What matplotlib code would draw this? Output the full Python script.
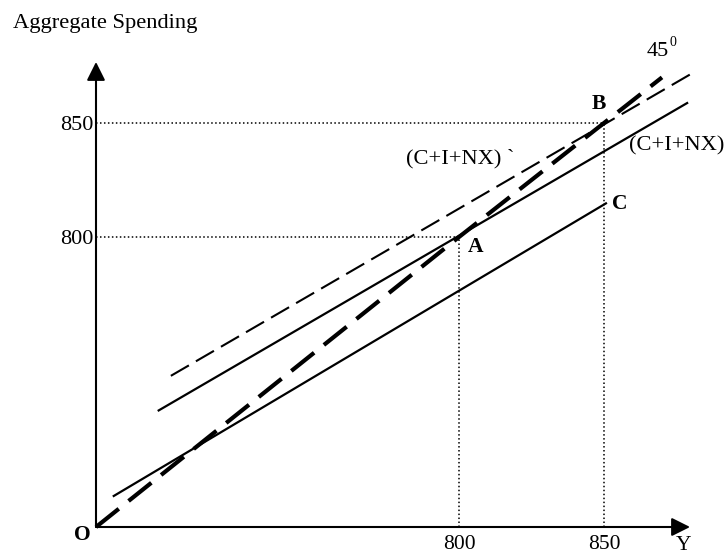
import numpy as np
import matplotlib
matplotlib.use("Agg")
import matplotlib.pyplot as plt

plt.rcParams['font.family'] = ['Liberation Serif', 'DejaVu Serif']

# ---------------- data (economic units: income Y and aggregate spending) -------------
tick_values = [800, 850]
tick_labels = ['800', '850']

line45_x = [0, 800, 850, 870]          # 45-degree line (AS = Y)
line45_y = [0, 800, 850, 870]

cinx_x = [136, 879]                     # (C+I+NX) original spending line
cinx_y = [320, 859]

cinx_new_x = [165, 882]                 # (C+I+NX)` shifted spending line
cinx_new_y = [417, 873]

c_x = [37, 851]                         # consumption line C
c_y = [84, 815]

eq_A = (800, 800)
eq_B = (850, 850)

# ---------------- schematic (not-to-scale) axis mapping -------------------------------
X_BREAKS, X_PIX = [0, 800, 850], [0, 363, 508]
Y_BREAKS, Y_PIX = [0, 800, 850], [0, 290, 404]


def piecewise(src, dst):
    src = np.asarray(src, float)
    dst = np.asarray(dst, float)
    s0 = (dst[1] - dst[0]) / (src[1] - src[0])
    s1 = (dst[-1] - dst[-2]) / (src[-1] - src[-2])

    def f(v):
        v = np.asarray(v, float)
        out = np.interp(v, src, dst)
        out = np.where(v < src[0], dst[0] + (v - src[0]) * s0, out)
        out = np.where(v > src[-1], dst[-1] + (v - src[-1]) * s1, out)
        return out
    return f


fx, fx_inv = piecewise(X_BREAKS, X_PIX), piecewise(X_PIX, X_BREAKS)
fy, fy_inv = piecewise(Y_BREAKS, Y_PIX), piecewise(Y_PIX, Y_BREAKS)

W, H = 727, 555
ox, oy = 96, 527   # origin in pixels (from top-left)

fig = plt.figure(figsize=(W / 100, H / 100), dpi=100)
ax = fig.add_axes([ox / W, (H - oy) / H, (W - ox) / W, oy / H])
ax.set_xscale('function', functions=(fx, fx_inv))
ax.set_yscale('function', functions=(fy, fy_inv))
ax.set_xlim(0, float(fx_inv(W - ox)))
ax.set_ylim(0, float(fy_inv(oy)))
for s in ax.spines.values():
    s.set_visible(False)
ax.patch.set_alpha(0)

ax.set_xticks(tick_values, tick_labels)
ax.set_yticks(tick_values, tick_labels)
ax.minorticks_off()
ax.tick_params(length=0, labelsize=16)
ax.tick_params(axis='x', labelsize=15.5, pad=5.5)
ax.tick_params(axis='y', pad=1.5)

# axes arrows
arrow_kw = dict(arrowstyle='-|>,head_length=0.56,head_width=0.28', mutation_scale=20,
                lw=1.5, color='black', shrinkA=0, shrinkB=0)
ax.annotate('', xy=(0, 0.8824), xytext=(0, 0), xycoords='axes fraction',
            textcoords='axes fraction', arrowprops=arrow_kw, annotation_clip=False)
ax.annotate('', xy=(0.9414, 0), xytext=(0, 0), xycoords='axes fraction',
            textcoords='axes fraction', arrowprops=arrow_kw, annotation_clip=False)

# dotted guides
dot_kw = dict(color='black', lw=1.1, linestyle=(0, (1, 1.6)), clip_on=False, zorder=1)
for (ex, ey) in (eq_A, eq_B):
    ax.plot([0, ex], [ey, ey], **dot_kw)
    ax.plot([ex, ex], [0, ey], **dot_kw)

# lines
ax.plot(line45_x, line45_y, color='black', lw=3.0, linestyle=(0, (7, 3)),
        clip_on=False, zorder=3)
ax.plot(cinx_new_x, cinx_new_y, color='black', lw=1.5, linestyle=(0, (10, 3.9)),
        clip_on=False, zorder=3)
ax.plot(cinx_x, cinx_y, color='black', lw=1.6, solid_capstyle='butt',
        clip_on=False, zorder=3)
ax.plot(c_x, c_y, color='black', lw=1.6, solid_capstyle='butt',
        clip_on=False, zorder=3)

# point labels
bold = dict(fontsize=15.5, fontweight='bold', ha='left', va='baseline')
ax.annotate('A', xy=eq_A, xytext=(9, -15), textcoords='offset pixels', **bold)
ax.annotate('B', xy=eq_B, xytext=(-12, 14), textcoords='offset pixels', **bold)
ax.annotate('C', xy=(c_x[-1], c_y[-1]), xytext=(5, -6), textcoords='offset pixels', **bold)


def ftext(x, y, s, **kw):
    fig.text(x / W, 1 - y / H, s, **kw)


ftext(13, 28, 'Aggregate Spending', fontsize=16.2, ha='left', va='baseline')
ftext(74, 540, 'O', fontsize=15.5, fontweight='bold', ha='left', va='baseline')
ftext(683.5, 550, 'Y', fontsize=15.5, ha='center', va='baseline')
ftext(647, 56, '45', fontsize=16, ha='left', va='baseline')
ftext(669.5, 46.5, '0', fontsize=10, ha='left', va='baseline')
ftext(406, 163, '(C+I+NX) `', fontsize=16.2, ha='left', va='baseline')
ftext(629, 150, '(C+I+NX)', fontsize=16.2, ha='left', va='baseline')

fig.savefig('out.png', dpi=100)
